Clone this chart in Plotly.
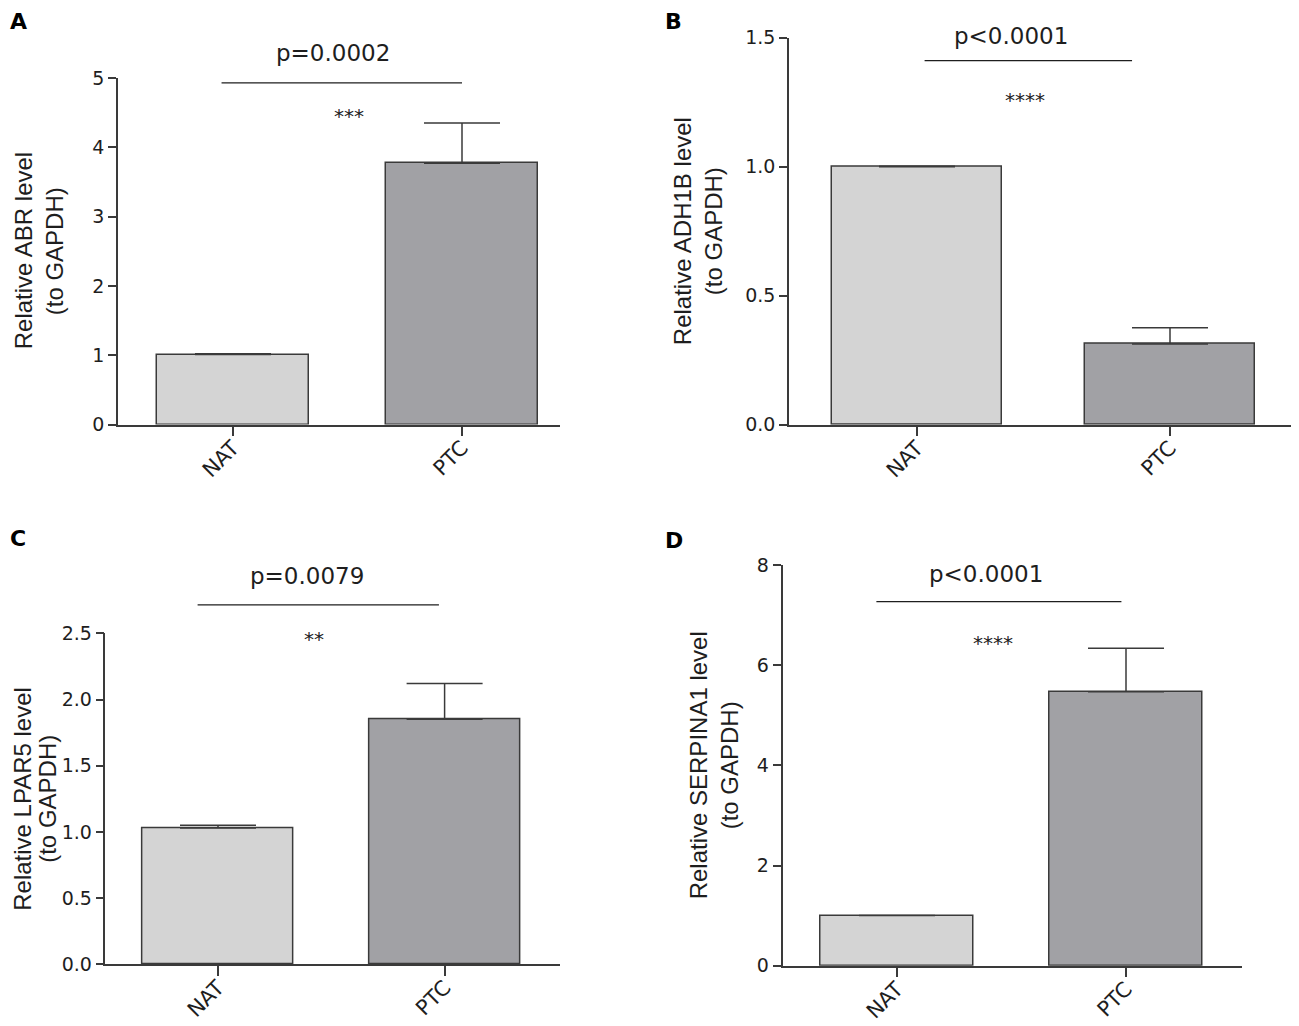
import plotly.graph_objects as go

groups = ["NAT", "PTC"]

# mean and upper error (SEM) for each gene
abr_mean = [1.01, 3.77]
abr_err = [0.01, 0.58]
adh1b_mean = [1.0, 0.313]
adh1b_err = [0.002, 0.063]
lpar5_mean = [1.03, 1.85]
lpar5_err = [0.02, 0.27]
serpina1_mean = [1.0, 5.47]
serpina1_err = [0.0, 0.87]

genes = ["ABR", "ADH1B", "LPAR5", "SERPINA1"]
panel_letters = ["A", "B", "C", "D"]
p_labels = ["p=0.0002", "p<0.0001", "p=0.0079", "p<0.0001"]
star_labels = ["***", "****", "**", "****"]
bracket_y = [4.93, 1.411, 2.714, 7.27]
y_max = [5, 1.5, 2.5, 8]
y_step = [1, 0.5, 0.5, 2]

means = [abr_mean, adh1b_mean, lpar5_mean, serpina1_mean]
errs = [abr_err, adh1b_err, lpar5_err, serpina1_err]

W, H = 1299, 1026
OFF = 8  # the page puts the figure 8px in from the top-left corner
bar_colors = ["#d4d4d4", "#a1a1a5"]
edge = "#3a3a3a"
ink = "#1e1e1e"
wide = "DejaVu Sans, sans-serif"
narrow = "Liberation Sans, Arial, sans-serif"


def fx(p):
    return (p - OFF) / W


def fy(p):
    return 1 - (p - OFF) / H


# pixel layout of each panel: axis left/right, y of zero, y of top tick, NAT centre, category step
frames = [
    dict(x0=118, x1=560, y0=424.5, y1=78, c0=233, step=229, bw=0.664,
         bx=(-0.05, 1.0), px=0.437, py=5.36, sx=0.507, sy=4.45,
         title_x=(23, 54), letter=(9, 21)),
    dict(x0=789, x1=1307, y0=424.7, y1=37.7, c0=917, step=253, bw=0.672,
         bx=(0.03, 0.85), px=0.372, py=1.505, sx=0.425, sy=1.26,
         title_x=(682, 713), letter=(664, 21)),
    dict(x0=105.4, x1=560, y0=964.3, y1=633.3, c0=218, step=226.6, bw=0.666,
         bx=(-0.09, 0.975), px=0.393, py=2.93, sx=0.422, sy=2.46,
         title_x=(23, 48), letter=(9, 538)),
    dict(x0=782.5, x1=1242, y0=965.7, y1=565, c0=897, step=229, bw=0.666,
         bx=(-0.09, 0.98), px=0.389, py=7.82, sx=0.418, sy=6.45,
         title_x=(698, 729), letter=(664, 540)),
]

fig = go.Figure()
annotations = []
shapes = []
layout_axes = {}

for i, f in enumerate(frames):
    n = "" if i == 0 else str(i + 1)
    xr, yr = "x" + n, "y" + n

    fig.add_trace(go.Bar(
        x=groups, y=means[i], xaxis=xr, yaxis=yr, width=f["bw"],
        marker=dict(color=bar_colors, line=dict(color=edge, width=1.5)),
        error_y=dict(type="data", array=errs[i], arrayminus=[0, 0], symmetric=False,
                     width=38, thickness=1.5, color=edge),
        showlegend=False, hoverinfo="x+y",
    ))

    xrange = [(f["x0"] - f["c0"]) / f["step"], (f["x1"] - f["c0"]) / f["step"]]
    layout_axes["xaxis" + n] = dict(
        domain=[fx(f["x0"]), min(fx(f["x1"]), 1.0)], range=xrange, anchor=yr,
        automargin=False, type="category", categoryorder="array", categoryarray=groups,
        showline=True, linecolor=edge, linewidth=1.5, ticks="outside", ticklen=10,
        tickwidth=1.5, tickcolor=edge, tickangle=-45, ticklabelstandoff=-9,
        showgrid=False, zeroline=False,
        tickfont=dict(family=wide, size=21, color=ink),
    )
    layout_axes["yaxis" + n] = dict(
        domain=[fy(f["y0"]), fy(f["y1"])], range=[0, y_max[i]], anchor=xr,
        automargin=False, tick0=0, dtick=y_step[i],
        tickformat=".1f" if y_step[i] < 1 else "d",
        showline=True, linecolor=edge, linewidth=1.5, ticks="outside", ticklen=8,
        tickwidth=1.5, tickcolor=edge, showgrid=False, zeroline=False,
        tickfont=dict(family=wide, size=19, color=ink),
    )

    # significance bracket: y given as a fraction of the y axis (range starts at 0)
    shapes.append(dict(
        type="line", xref=xr, yref=yr + " domain",
        x0=f["bx"][0], x1=f["bx"][1],
        y0=bracket_y[i] / y_max[i], y1=bracket_y[i] / y_max[i],
        line=dict(color=ink, width=1.3),
    ))
    annotations.append(dict(
        xref=xr, yref=yr + " domain", x=f["px"], y=f["py"] / y_max[i],
        text=p_labels[i], showarrow=False,
        font=dict(family=wide, size=23, color=ink), xanchor="center", yanchor="middle",
    ))
    annotations.append(dict(
        xref=xr, yref=yr + " domain", x=f["sx"], y=f["sy"] / y_max[i],
        text=star_labels[i], showarrow=False,
        font=dict(family=wide, size=20, color=ink), xanchor="center", yanchor="middle",
    ))
    # y axis title, one annotation per line
    for line_x, line_text in zip(f["title_x"], ["Relative " + genes[i] + " level", "(to GAPDH)"]):
        annotations.append(dict(
            xref="paper", yref=yr + " domain", x=fx(line_x), y=0.5,
            text=line_text, textangle=-90, showarrow=False, borderpad=0,
            font=dict(family=narrow, size=24, color=ink),
            xanchor="center", yanchor="middle",
        ))
    # panel letter
    annotations.append(dict(
        xref="paper", yref="paper", x=fx(f["letter"][0]), y=fy(f["letter"][1]),
        text="<b>" + panel_letters[i] + "</b>", showarrow=False, borderpad=0,
        font=dict(family=wide, size=22, color="#000"), xanchor="left", yanchor="middle",
    ))

fig.update_layout(
    template="none",
    width=W, height=H, margin=dict(l=0, r=0, t=0, b=0, autoexpand=False),
    paper_bgcolor="white", plot_bgcolor="white",
    annotations=annotations, shapes=shapes, showlegend=False, bargap=0,
    **layout_axes,
)

fig.write_html("out.html")
